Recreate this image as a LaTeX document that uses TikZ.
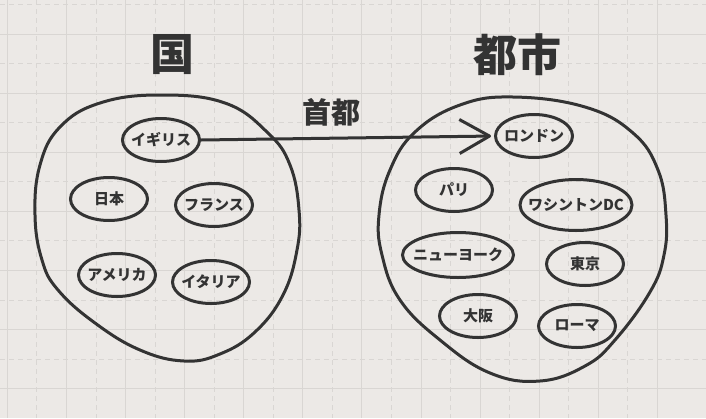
\documentclass[tikz,border=0pt]{standalone}
\usepackage{fontspec}
\setmainfont{Noto Sans CJK JP}
\usetikzlibrary{shapes.geometric,arrows.meta}
\definecolor{ink}{HTML}{333333}
\definecolor{paper}{HTML}{ECE9E6}
\definecolor{gridline}{HTML}{D9D6D3}

\begin{document}
\begin{tikzpicture}[x=1pt,y=-1pt,
  item/.style={ellipse,draw=ink,line width=3pt,minimum width=77pt,minimum height=43pt,
    inner xsep=-10pt,inner ysep=0pt,text=ink,font=\fontsize{15}{15}\selectfont\bfseries},
  blob/.style={draw=ink,line width=3pt},
  title/.style={text=ink,font=\fontsize{44}{44}\selectfont\bfseries}]
\useasboundingbox (0,0) rectangle (706,418);
\fill[paper] (0,0) rectangle (706,418);
% grid
\foreach \k in {0,...,11} \draw[gridline,line width=1pt] ({7.3+59.1*\k},0) -- ++(0,418);
\foreach \k in {0,...,10} \draw[gridline,line width=1pt,dash pattern=on 5pt off 4pt] ({36.9+59.1*\k},0) -- ++(0,418);
\foreach \k in {0,...,6} \draw[gridline,line width=1pt] (0,{34+59.1*\k}) -- ++(706,0);
\foreach \k in {0,...,6} \draw[gridline,line width=1pt,dash pattern=on 5pt off 4pt] (0,{4.5+59.1*\k}) -- ++(706,0);
% the two sets
\draw[blob] plot[smooth cycle,tension=0.7] coordinates {(160,95) (225,103) (268,133) (290,165) (299,210) (297,250) (283,295) (255,332) (220,354) (184,361) (140,350) (95,323) (58,290) (42,260) (35,215) (40,165) (60,127) (100,103)};
\draw[blob] plot[smooth cycle,tension=0.7] coordinates {(513,97) (585,107) (633,133) (658,170) (666,215) (664,255) (650,292) (615,340) (585,366) (540,381) (490,373) (440,340) (400,300) (382,255) (379,215) (390,170) (415,132) (460,105)};
\node[title] (kuni) at (172,55) {国};
\node[title] (toshi) at (517,55) {都市};
\node[text=ink,font=\fontsize{29}{29}\selectfont\bfseries] (shuto) at (331,112) {首都};
% countries
\node[item] (igirisu) at (161,140) {イギリス};
\node[item] (nihon) at (109,199) {日本};
\node[item] (furansu) at (214,205) {フランス};
\node[item] (amerika) at (117,275) {アメリカ};
\node[item] (itaria) at (211,282) {イタリア};
% cities
\node[item] (rondon) at (534,136) {ロンドン};
\node[item] (pari) at (454,190) {パリ};
\node[item,minimum width=112pt,minimum height=51pt] (washinton) at (576,205) {ワシントンDC};
\node[item,minimum width=111pt,minimum height=45pt] (nyuyoku) at (458,255) {ニューヨーク};
\node[item] (tokyo) at (585,264) {東京};
\node[item] (osaka) at (478,316) {大阪};
\node[item] (roma) at (577,326) {ローマ};
\draw[ink,line width=3pt,-{Straight Barb[length=30pt,width=34pt,line join=round]},shorten >=3pt] (igirisu.east) -- (rondon.west);
\end{tikzpicture}
\end{document}
